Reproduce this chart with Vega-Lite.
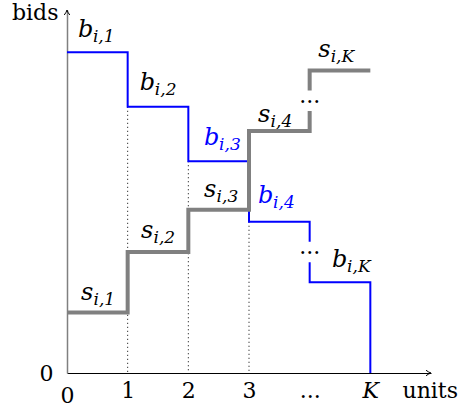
{
  "$schema": "https://vega.github.io/schema/vega-lite/v6.json",
  "width": 364,
  "height": 363,
  "autosize": {"type": "none"},
  "padding": {"left": 67, "top": 10, "right": 30, "bottom": 38},
  "config": {"view": {"stroke": null}, "font": "DejaVu Serif"},
  "datasets": {
    "steps": [
      {"s": "b", "seg": 1, "ord": 1, "x": 0, "y": 5.3},
      {"s": "b", "seg": 1, "ord": 2, "x": 1, "y": 5.3},
      {"s": "b", "seg": 1, "ord": 3, "x": 1, "y": 4.4},
      {"s": "b", "seg": 1, "ord": 4, "x": 2, "y": 4.4},
      {"s": "b", "seg": 1, "ord": 5, "x": 2, "y": 3.5},
      {"s": "b", "seg": 1, "ord": 6, "x": 3, "y": 3.5},
      {"s": "b", "seg": 1, "ord": 7, "x": 3, "y": 2.5},
      {"s": "b", "seg": 1, "ord": 8, "x": 4, "y": 2.5},
      {"s": "b", "seg": 1, "ord": 9, "x": 4, "y": 2.17},
      {"s": "b", "seg": 2, "ord": 10, "x": 4, "y": 1.83},
      {"s": "b", "seg": 2, "ord": 11, "x": 4, "y": 1.5},
      {"s": "b", "seg": 2, "ord": 12, "x": 5, "y": 1.5},
      {"s": "b", "seg": 2, "ord": 13, "x": 5, "y": 0},
      {"s": "s", "seg": 3, "ord": 1, "x": 0, "y": 1},
      {"s": "s", "seg": 3, "ord": 2, "x": 1, "y": 1},
      {"s": "s", "seg": 3, "ord": 3, "x": 1, "y": 2},
      {"s": "s", "seg": 3, "ord": 4, "x": 2, "y": 2},
      {"s": "s", "seg": 3, "ord": 5, "x": 2, "y": 2.7},
      {"s": "s", "seg": 3, "ord": 6, "x": 3, "y": 2.7},
      {"s": "s", "seg": 3, "ord": 7, "x": 3, "y": 4},
      {"s": "s", "seg": 3, "ord": 8, "x": 4, "y": 4},
      {"s": "s", "seg": 3, "ord": 9, "x": 4, "y": 4.33},
      {"s": "s", "seg": 4, "ord": 10, "x": 4, "y": 4.67},
      {"s": "s", "seg": 4, "ord": 11, "x": 4, "y": 5},
      {"s": "s", "seg": 4, "ord": 12, "x": 5, "y": 5}
    ],
    "drops": [
      {"x": 1, "y": 4.4},
      {"x": 2, "y": 3.5},
      {"x": 3, "y": 2.5}
    ],
    "labels": [
      {"m": "b", "sub": "i,1", "x": 0.18, "y": 5.55, "hl": false},
      {"m": "b", "sub": "i,2", "x": 1.2, "y": 4.68, "hl": false},
      {"m": "b", "sub": "i,3", "x": 2.26, "y": 3.77, "hl": true},
      {"m": "b", "sub": "i,4", "x": 3.15, "y": 2.81, "hl": true},
      {"m": "b", "sub": "i,K", "x": 4.37, "y": 1.75, "hl": false},
      {"m": "s", "sub": "i,1", "x": 0.23, "y": 1.21, "hl": false},
      {"m": "s", "sub": "i,2", "x": 1.22, "y": 2.23, "hl": false},
      {"m": "s", "sub": "i,3", "x": 2.26, "y": 2.91, "hl": false},
      {"m": "s", "sub": "i,4", "x": 3.15, "y": 4.15, "hl": false},
      {"m": "s", "sub": "i,K", "x": 4.14, "y": 5.22, "hl": false}
    ],
    "gaps": [
      {"x": 4, "y": 4.46},
      {"x": 4, "y": 1.97}
    ]
  },
  "layer": [
    {
      "data": {"name": "drops"},
      "mark": {"type": "rule", "color": "black", "strokeWidth": 1, "strokeDash": [1, 3]},
      "encoding": {
        "x": {
          "field": "x", "type": "quantitative",
          "scale": {"domain": [0, 6], "nice": false, "zero": false},
          "axis": {
            "title": "units",
            "values": [0, 1, 2, 3, 4, 5],
            "format": "d",
            "labelExpr": "datum.value == 4 ? '...' : datum.value == 5 ? 'K' : datum.label",
            "ticks": false, "grid": false,
            "domainColor": "black", "domainWidth": 1,
            "labelFont": "DejaVu Serif", "labelFontSize": 22, "labelColor": "black",
            "labelFontStyle": {"condition": {"test": "datum.value == 5", "value": "italic"}, "value": "normal"},
            "labelPadding": {"condition": {"test": "datum.value == 0", "value": 12}, "value": 7},
            "labelFlush": false, "labelOverlap": false, "labelBound": false,
            "titleFont": "DejaVu Serif", "titleFontSize": 22, "titleFontWeight": "normal", "titleColor": "black",
            "titleAlign": "left", "titleBaseline": "alphabetic", "titleX": 335, "titleY": 24
          }
        },
        "y": {
          "field": "y", "type": "quantitative",
          "scale": {"domain": [0, 6], "nice": false, "zero": false},
          "axis": {
            "title": "bids",
            "values": [0],
            "format": "d",
            "ticks": false, "grid": false,
            "domainColor": "#808080", "domainWidth": 1.5,
            "labelFont": "DejaVu Serif", "labelFontSize": 22, "labelColor": "black", "labelPadding": 14,
            "titleFont": "DejaVu Serif", "titleFontSize": 22, "titleFontWeight": "normal", "titleColor": "black",
            "titleAngle": 0, "titleAlign": "right", "titleBaseline": "alphabetic", "titleX": -9, "titleY": 9
          }
        },
        "y2": {"datum": 0}
      }
    },
    {
      "data": {"name": "steps"},
      "transform": [{"filter": "datum.s == 'b'"}],
      "mark": {"type": "line", "color": "#0000ff", "strokeWidth": 2, "strokeJoin": "miter", "strokeCap": "butt"},
      "encoding": {
        "x": {"field": "x", "type": "quantitative"},
        "y": {"field": "y", "type": "quantitative"},
        "detail": {"field": "seg", "type": "nominal"},
        "order": {"field": "ord", "type": "quantitative"}
      }
    },
    {
      "data": {"name": "steps"},
      "transform": [{"filter": "datum.s == 's'"}],
      "mark": {"type": "line", "color": "#808080", "strokeWidth": 4, "strokeJoin": "miter", "strokeCap": "butt"},
      "encoding": {
        "x": {"field": "x", "type": "quantitative"},
        "y": {"field": "y", "type": "quantitative"},
        "detail": {"field": "seg", "type": "nominal"},
        "order": {"field": "ord", "type": "quantitative"}
      }
    },
    {
      "data": {"values": [{}]},
      "mark": {"type": "point", "shape": "M-1,-0.55 Q-0.4,-0.1 0,0 Q-0.4,0.1 -1,0.55", "size": 100, "filled": false, "stroke": "black", "strokeWidth": 1, "opacity": 1},
      "encoding": {"x": {"datum": 6}, "y": {"datum": 0}}
    },
    {
      "data": {"values": [{}]},
      "mark": {"type": "point", "shape": "M-0.55,1 Q-0.1,0.4 0,0 Q0.1,0.4 0.55,1", "size": 100, "filled": false, "stroke": "black", "strokeWidth": 1, "opacity": 1},
      "encoding": {"x": {"datum": 0}, "y": {"datum": 6}}
    },
    {
      "data": {"name": "labels"},
      "mark": {"type": "text", "align": "left", "baseline": "alphabetic", "fontSize": 24, "fontStyle": "italic", "font": "DejaVu Serif"},
      "encoding": {
        "x": {"field": "x", "type": "quantitative"},
        "y": {"field": "y", "type": "quantitative"},
        "text": {"field": "m"},
        "color": {"condition": {"test": "datum.hl", "value": "#0000ff"}, "value": "black"}
      }
    },
    {
      "data": {"name": "labels"},
      "transform": [{"filter": "datum.m == 'b'"}],
      "mark": {"type": "text", "align": "left", "baseline": "alphabetic", "fontSize": 17, "fontStyle": "italic", "font": "DejaVu Serif", "dx": 15, "dy": 5},
      "encoding": {
        "x": {"field": "x", "type": "quantitative"},
        "y": {"field": "y", "type": "quantitative"},
        "text": {"field": "sub"},
        "color": {"condition": {"test": "datum.hl", "value": "#0000ff"}, "value": "black"}
      }
    },
    {
      "data": {"name": "labels"},
      "transform": [{"filter": "datum.m == 's'"}],
      "mark": {"type": "text", "align": "left", "baseline": "alphabetic", "fontSize": 17, "fontStyle": "italic", "font": "DejaVu Serif", "dx": 12.5, "dy": 5},
      "encoding": {
        "x": {"field": "x", "type": "quantitative"},
        "y": {"field": "y", "type": "quantitative"},
        "text": {"field": "sub"},
        "color": {"condition": {"test": "datum.hl", "value": "#0000ff"}, "value": "black"}
      }
    },
    {
      "data": {"name": "gaps"},
      "mark": {"type": "text", "align": "center", "baseline": "alphabetic", "fontSize": 22, "font": "DejaVu Serif", "color": "black"},
      "encoding": {
        "x": {"field": "x", "type": "quantitative"},
        "y": {"field": "y", "type": "quantitative"},
        "text": {"value": "..."}
      }
    }
  ]
}
